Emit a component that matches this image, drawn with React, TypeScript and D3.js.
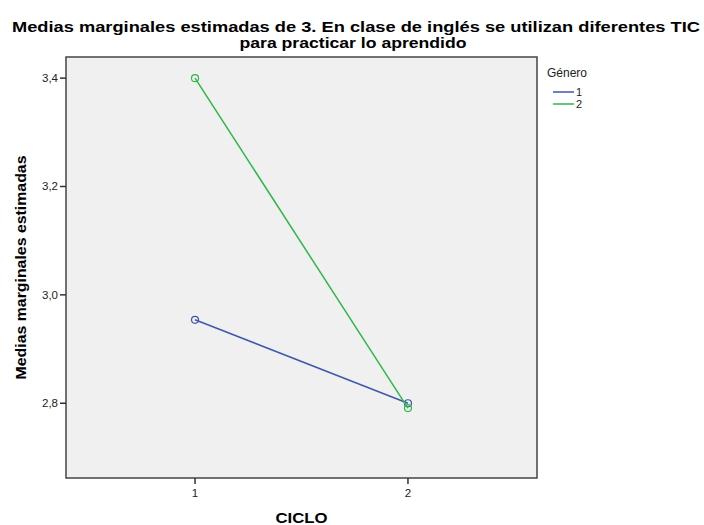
import React from "react";
import * as d3 from "d3";

const ciclos = [1, 2];
const genero1 = [2.954, 2.8];
const genero2 = [3.4, 2.791];
const seriesNames = ["1", "2"];
const seriesColors = ["#3e58ac", "#2eb848"];
const yTicks = [2.8, 3.0, 3.2, 3.4];
const xTicks = [1, 2];
const titleLines = [
  "Medias marginales estimadas de 3. En clase de inglés se utilizan diferentes TIC",
  "para practicar lo aprendido",
];

export default function App() {
  const W = 704, H = 525;
  const left = 66, right = 537, top = 57, bottom = 478;
  const x = d3.scaleLinear().domain([1 - 0.606, 2 + 0.606]).range([left, right]);
  const y = d3.scaleLinear().domain([2.662, 3.439]).range([bottom, top]);
  const fmt = (v: number) => d3.format(".1f")(v).replace(".", ",");
  const line = d3.line<[number, number]>().x(d => x(d[0])).y(d => y(d[1]));
  const series = [genero1, genero2];
  const font = "'Liberation Sans', Arial, sans-serif";

  return (
    <svg width={W} height={H} style={{ position: "absolute", left: 0, top: 0, background: "#fff" }} fontFamily={font}>
      <text x={356} y={32} textAnchor="middle" fontSize={15} fontWeight="bold" textLength={688} lengthAdjust="spacingAndGlyphs">{titleLines[0]}</text>
      <text x={353} y={47.5} textAnchor="middle" fontSize={15} fontWeight="bold" textLength={227} lengthAdjust="spacingAndGlyphs">{titleLines[1]}</text>
      <rect x={left} y={top} width={right - left} height={bottom - top} fill="#f0f0f0" stroke="#444" strokeWidth={1.5} />
      {yTicks.map(t => (
        <g key={t}>
          <line x1={left - 6} x2={left} y1={y(t)} y2={y(t)} stroke="#333" strokeWidth={1.5} />
          <text x={left - 8} y={y(t) + 4} textAnchor="end" fontSize={11.5} fill="#222">{fmt(t)}</text>
        </g>
      ))}
      {xTicks.map(t => (
        <g key={t}>
          <line x1={x(t)} x2={x(t)} y1={bottom} y2={bottom + 6} stroke="#333" strokeWidth={1.5} />
          <text x={x(t)} y={bottom + 19} textAnchor="middle" fontSize={11.5} fill="#222">{t}</text>
        </g>
      ))}
      <text x={(left + right) / 2} y={523} textAnchor="middle" fontSize={15} fontWeight="bold" textLength={52} lengthAdjust="spacingAndGlyphs">CICLO</text>
      <text transform={`translate(26,${(top + bottom) / 2}) rotate(-90)`} textAnchor="middle" fontSize={14.5} fontWeight="bold" textLength={224} lengthAdjust="spacingAndGlyphs">Medias marginales estimadas</text>
      {series.map((s, i) => {
        const pts = ciclos.map((c, j) => [c, s[j]] as [number, number]);
        return (
          <g key={i}>
            <path d={line(pts) || ""} fill="none" stroke={seriesColors[i]} strokeWidth={1.5} />
            {pts.map((p, j) => (
              <circle key={j} cx={x(p[0])} cy={y(p[1])} r={3.5} fill="none" stroke={seriesColors[i]} strokeWidth={1.2} />
            ))}
          </g>
        );
      })}
      <text x={547} y={77} fontSize={12} fill="#222">Género</text>
      {seriesNames.map((n, i) => (
        <g key={n}>
          <line x1={553} x2={574} y1={92 + i * 12} y2={92 + i * 12} stroke={seriesColors[i]} strokeWidth={1.5} />
          <text x={576} y={96 + i * 12} fontSize={11} fill="#222">{n}</text>
        </g>
      ))}
    </svg>
  );
}
